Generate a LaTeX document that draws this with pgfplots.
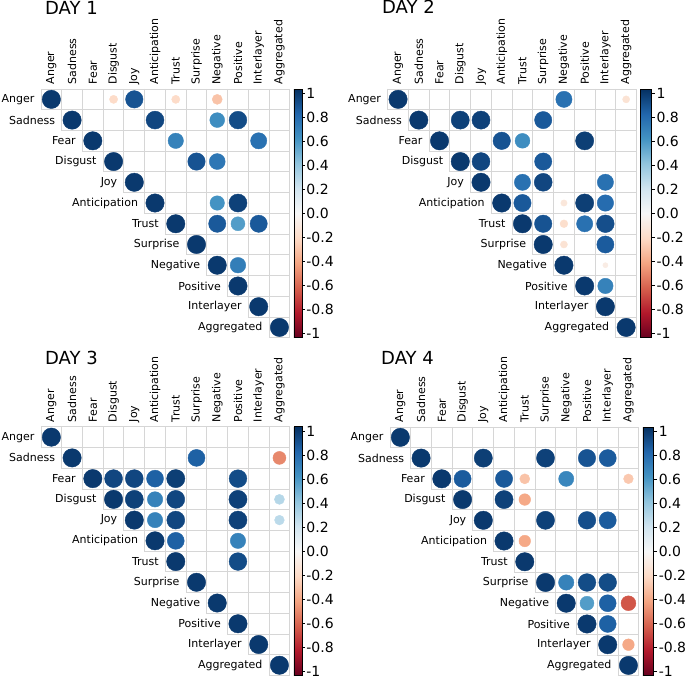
\documentclass[border=0pt]{standalone}
\usepackage{fontspec}
\setmainfont{DejaVu Sans}
\usepackage{pgfplots}
\usepackage{pgfplotstable}
\pgfplotsset{compat=1.18}

% grid of the upper triangle (x = column, y = 11 - row)
\pgfplotstableread{
x y
-0.5 11.5
11.5 11.5
11.5 -0.5
nan nan
-0.5 11.5
-0.5 10.5
11.5 10.5
nan nan
0.5 11.5
0.5 9.5
11.5 9.5
nan nan
1.5 11.5
1.5 8.5
11.5 8.5
nan nan
2.5 11.5
2.5 7.5
11.5 7.5
nan nan
3.5 11.5
3.5 6.5
11.5 6.5
nan nan
4.5 11.5
4.5 5.5
11.5 5.5
nan nan
5.5 11.5
5.5 4.5
11.5 4.5
nan nan
6.5 11.5
6.5 3.5
11.5 3.5
nan nan
7.5 11.5
7.5 2.5
11.5 2.5
nan nan
8.5 11.5
8.5 1.5
11.5 1.5
nan nan
9.5 11.5
9.5 0.5
11.5 0.5
nan nan
10.5 11.5
10.5 -0.5
11.5 -0.5
}\gridtab

\pgfplotstableread{
x y lab
-0.5 11 Anger
0.5 10 Sadness
1.5 9 Fear
2.5 8 Disgust
3.5 7 Joy
4.5 6 Anticipation
5.5 5 Trust
6.5 4 Surprise
7.5 3 Negative
8.5 2 Positive
9.5 1 Interlayer
10.5 0 Aggregated
}\rowlabels

% DAY 1
\pgfplotstableread{
x y v
0 11 1
3 11 -0.2
4 11 0.9
6 11 -0.2
8 11 -0.3
1 10 1
5 10 0.95
8 10 0.65
9 10 0.93
2 9 1
6 9 0.7
10 9 0.78
3 8 1
7 8 0.9
8 8 0.75
4 7 1
5 6 1
8 6 0.62
9 6 0.97
6 5 1
8 5 0.88
9 5 0.58
10 5 0.88
7 4 1
8 3 1
9 3 0.72
9 2 1
10 1 1
11 0 1
}\dayone

% DAY 2
\pgfplotstableread{
x y v
0 11 1
8 11 0.78
11 11 -0.15
1 10 1
3 10 0.97
4 10 0.97
7 10 0.88
2 9 1
5 9 0.9
6 9 0.65
9 9 0.98
3 8 1
4 8 0.95
7 8 0.88
4 7 1
6 7 0.78
7 7 0.95
10 7 0.78
5 6 1
6 6 0.88
8 6 -0.12
9 6 0.98
10 6 0.8
6 5 1
7 5 0.9
8 5 -0.18
9 5 0.78
10 5 0.92
7 4 1
8 4 -0.15
10 4 0.87
8 3 1
10 3 -0.08
9 2 1
10 2 0.7
10 1 1
11 0 1
}\daytwo

% DAY 3
\pgfplotstableread{
x y v
0 11 1
1 10 1
7 10 0.85
11 10 -0.5
2 9 1
3 9 0.95
4 9 0.95
5 9 0.85
6 9 0.98
9 9 0.93
3 8 1
4 8 0.97
5 8 0.7
6 8 0.95
9 8 0.97
11 8 0.3
4 7 1
5 7 0.7
6 7 0.95
9 7 0.97
11 7 0.28
5 6 1
6 6 0.85
9 6 0.7
6 5 1
9 5 0.93
7 4 1
8 3 1
9 2 1
10 1 1
11 0 1
}\daythree

% DAY 4
\pgfplotstableread{
x y v
0 11 1
1 10 1
4 10 0.98
7 10 0.97
9 10 0.9
10 10 0.87
2 9 1
3 9 0.87
5 9 0.88
6 9 -0.3
8 9 0.68
11 9 -0.28
3 8 1
5 8 0.97
6 8 -0.4
4 7 1
7 7 0.97
9 7 0.92
10 7 0.87
5 6 1
6 6 -0.4
6 5 1
7 4 1
8 4 0.7
9 4 0.93
10 4 0.93
8 3 1
9 3 0.58
10 3 0.85
11 3 -0.65
9 2 1
10 2 0.85
10 1 1
11 1 -0.4
11 0 1
}\dayfour

\tikzset{daytitle/.style={anchor=base west, font=\fontsize{18}{20}\selectfont, inner sep=0pt}}

\pgfplotsset{
  colormap={RdBu}{rgb255=(103,0,31) rgb255=(178,24,43) rgb255=(214,96,77)
    rgb255=(244,165,130) rgb255=(253,219,199) rgb255=(247,247,247)
    rgb255=(209,229,240) rgb255=(146,197,222) rgb255=(67,147,195)
    rgb255=(33,102,172) rgb255=(5,48,97)},
  corr/.style 2 args={
    scale only axis, width=248.8pt, height=248.8pt,
    xmin=-0.5, xmax=11.5, ymin=-0.5, ymax=11.5,
    axis line style={draw=none},
    major tick length=0pt,
    xtick={0,...,11},
    xticklabels={Anger,Sadness,Fear,Disgust,Joy,Anticipation,Trust,Surprise,Negative,Positive,Interlayer,Aggregated},
    xticklabel pos=upper,
    xticklabel style={rotate=90, anchor=west, font=\fontsize{11}{13}\selectfont, inner sep=4.5pt},
    ytick=\empty,
    clip=false,
    unbounded coords=jump,
    colormap name=RdBu,
    point meta min=-1.035, point meta max=1.035,
    colorbar,
    colorbar shift/.style={xshift=4pt},
    colorbar style={
      at={(parent axis.north east)}, anchor=north west,
      scale only axis, width=#1, height=248.8pt,
      ytick={-1,-0.8,-0.6,-0.4,-0.2,0,0.2,0.4,0.6,0.8,1},
      yticklabels={-1,-0.8,-0.6,-0.4,-0.2,0.0,0.2,0.4,0.6,0.8,1},
      yticklabel style={font=\fontsize{14}{16}\selectfont, inner sep=1.5pt},
      major tick length=#2,
      ytick align=outside, ytick pos=right, yticklabel pos=right,
      axis line style={black, line width=0.6pt},
      tick style={black, line width=0.6pt},
    },
  },
  gridline/.style={color=black!16, line width=0.9pt, mark=none},
  rowlab/.style={only marks, mark=none, nodes near coords, point meta=explicit symbolic,
    nodes near coords style={anchor=east, font=\fontsize{11}{13}\selectfont, inner sep=0pt, xshift=-6.5pt}},
  circ/.style={scatter, only marks, mark=*, point meta=explicit,
    scatter/use mapped color={draw=mapped color, fill=mapped color},
    mark options={line width=0.4pt},
    visualization depends on={9.2*sqrt(abs(\thisrow{v})) \as \rad},
    scatter/@pre marker code/.append style={/tikz/mark size=\rad pt}},
}

\begin{document}
\begin{tikzpicture}
\useasboundingbox (0,0) rectangle (685pt,679pt);

\begin{axis}[corr={8.4pt}{2.5pt}, at={(41pt,590pt)}, anchor=north west]
\addplot[gridline] table[x=x,y=y] {\gridtab};
\addplot[rowlab] table[x=x,y=y,meta=lab] {\rowlabels};
\addplot[circ] table[x=x,y=y,meta=v] {\dayone};
\node[daytitle] at (rel axis cs:0.016,1.300) {DAY 1};
\end{axis}

\begin{axis}[corr={10.8pt}{3.5pt}, at={(387.7pt,590pt)}, anchor=north west]
\addplot[gridline] table[x=x,y=y] {\gridtab};
\addplot[rowlab] table[x=x,y=y,meta=lab] {\rowlabels};
\addplot[circ] table[x=x,y=y,meta=v] {\daytwo};
\node[daytitle] at (rel axis cs:-0.023,1.303) {DAY 2};
\end{axis}

\begin{axis}[corr={8.4pt}{2.5pt}, at={(41pt,252.2pt)}, anchor=north west]
\addplot[gridline] table[x=x,y=y] {\gridtab};
\addplot[rowlab] table[x=x,y=y,meta=lab] {\rowlabels};
\addplot[circ] table[x=x,y=y,meta=v] {\daythree};
\node[daytitle] at (rel axis cs:0.016,1.25) {DAY 3};
\end{axis}

\begin{axis}[corr={10.8pt}{3.5pt}, at={(390pt,252pt)}, anchor=north west]
\addplot[gridline] table[x=x,y=y] {\gridtab};
\addplot[rowlab] table[x=x,y=y,meta=lab] {\rowlabels};
\addplot[circ] table[x=x,y=y,meta=v] {\dayfour};
\node[daytitle] at (rel axis cs:-0.036,1.253) {DAY 4};
\end{axis}
\end{tikzpicture}
\end{document}
